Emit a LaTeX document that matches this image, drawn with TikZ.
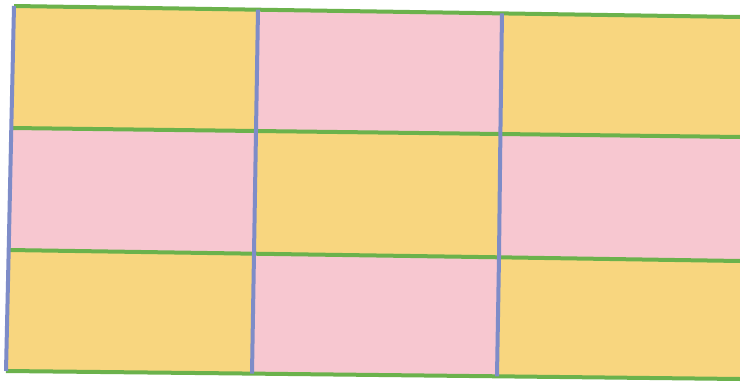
\documentclass[tikz,border=0pt]{standalone}
\definecolor{cellY}{HTML}{F8D67F}
\definecolor{cellP}{HTML}{F7C7D0}
\definecolor{lineG}{HTML}{6BB24C}
\definecolor{lineB}{HTML}{7E8CC8}
\tikzset{
  hline/.style={draw=lineG, line width=4pt},
  vline/.style={draw=lineB, line width=4pt},
}
\begin{document}
\begin{tikzpicture}[x=1pt,y=-1pt]
\useasboundingbox (0,0) rectangle (740,383);
\fill[white] (0,0) rectangle (740,383);
% grid points p<i><j>: i column line, j row line
\coordinate (p00) at (14,6);
\coordinate (p01) at (11.3,128);
\coordinate (p02) at (8.7,250);
\coordinate (p03) at (6,371);
\coordinate (p10) at (258,9.7);
\coordinate (p11) at (256,131);
\coordinate (p12) at (254,253.7);
\coordinate (p13) at (252,373.6);
\coordinate (p20) at (502,13.4);
\coordinate (p21) at (500.4,134);
\coordinate (p22) at (499,257.3);
\coordinate (p23) at (497,376.3);
\coordinate (p30) at (740,17);
\coordinate (p31) at (740,137);
\coordinate (p32) at (740,261);
\coordinate (p33) at (740,379);
% cells
\fill[cellY] (p00)--(p10)--(p11)--(p01)--cycle;
\fill[cellP] (p10)--(p20)--(p21)--(p11)--cycle;
\fill[cellY] (p20)--(p30)--(p31)--(p21)--cycle;
\fill[cellP] (p01)--(p11)--(p12)--(p02)--cycle;
\fill[cellY] (p11)--(p21)--(p22)--(p12)--cycle;
\fill[cellP] (p21)--(p31)--(p32)--(p22)--cycle;
\fill[cellY] (p02)--(p12)--(p13)--(p03)--cycle;
\fill[cellP] (p12)--(p22)--(p23)--(p13)--cycle;
\fill[cellY] (p22)--(p32)--(p33)--(p23)--cycle;
% horizontal lines
\draw[hline] (p00)--(p10)--(p20)--(p30);
\draw[hline] (p01)--(p11)--(p21)--(p31);
\draw[hline] (p02)--(p12)--(p22)--(p32);
\draw[hline] (p03)--(p13)--(p23)--(p33);
% vertical lines
\draw[vline] (p00)--(p01)--(p02)--(p03);
\draw[vline] (p10)--(p11)--(p12)--(p13);
\draw[vline] (p20)--(p21)--(p22)--(p23);
\end{tikzpicture}
\end{document}
